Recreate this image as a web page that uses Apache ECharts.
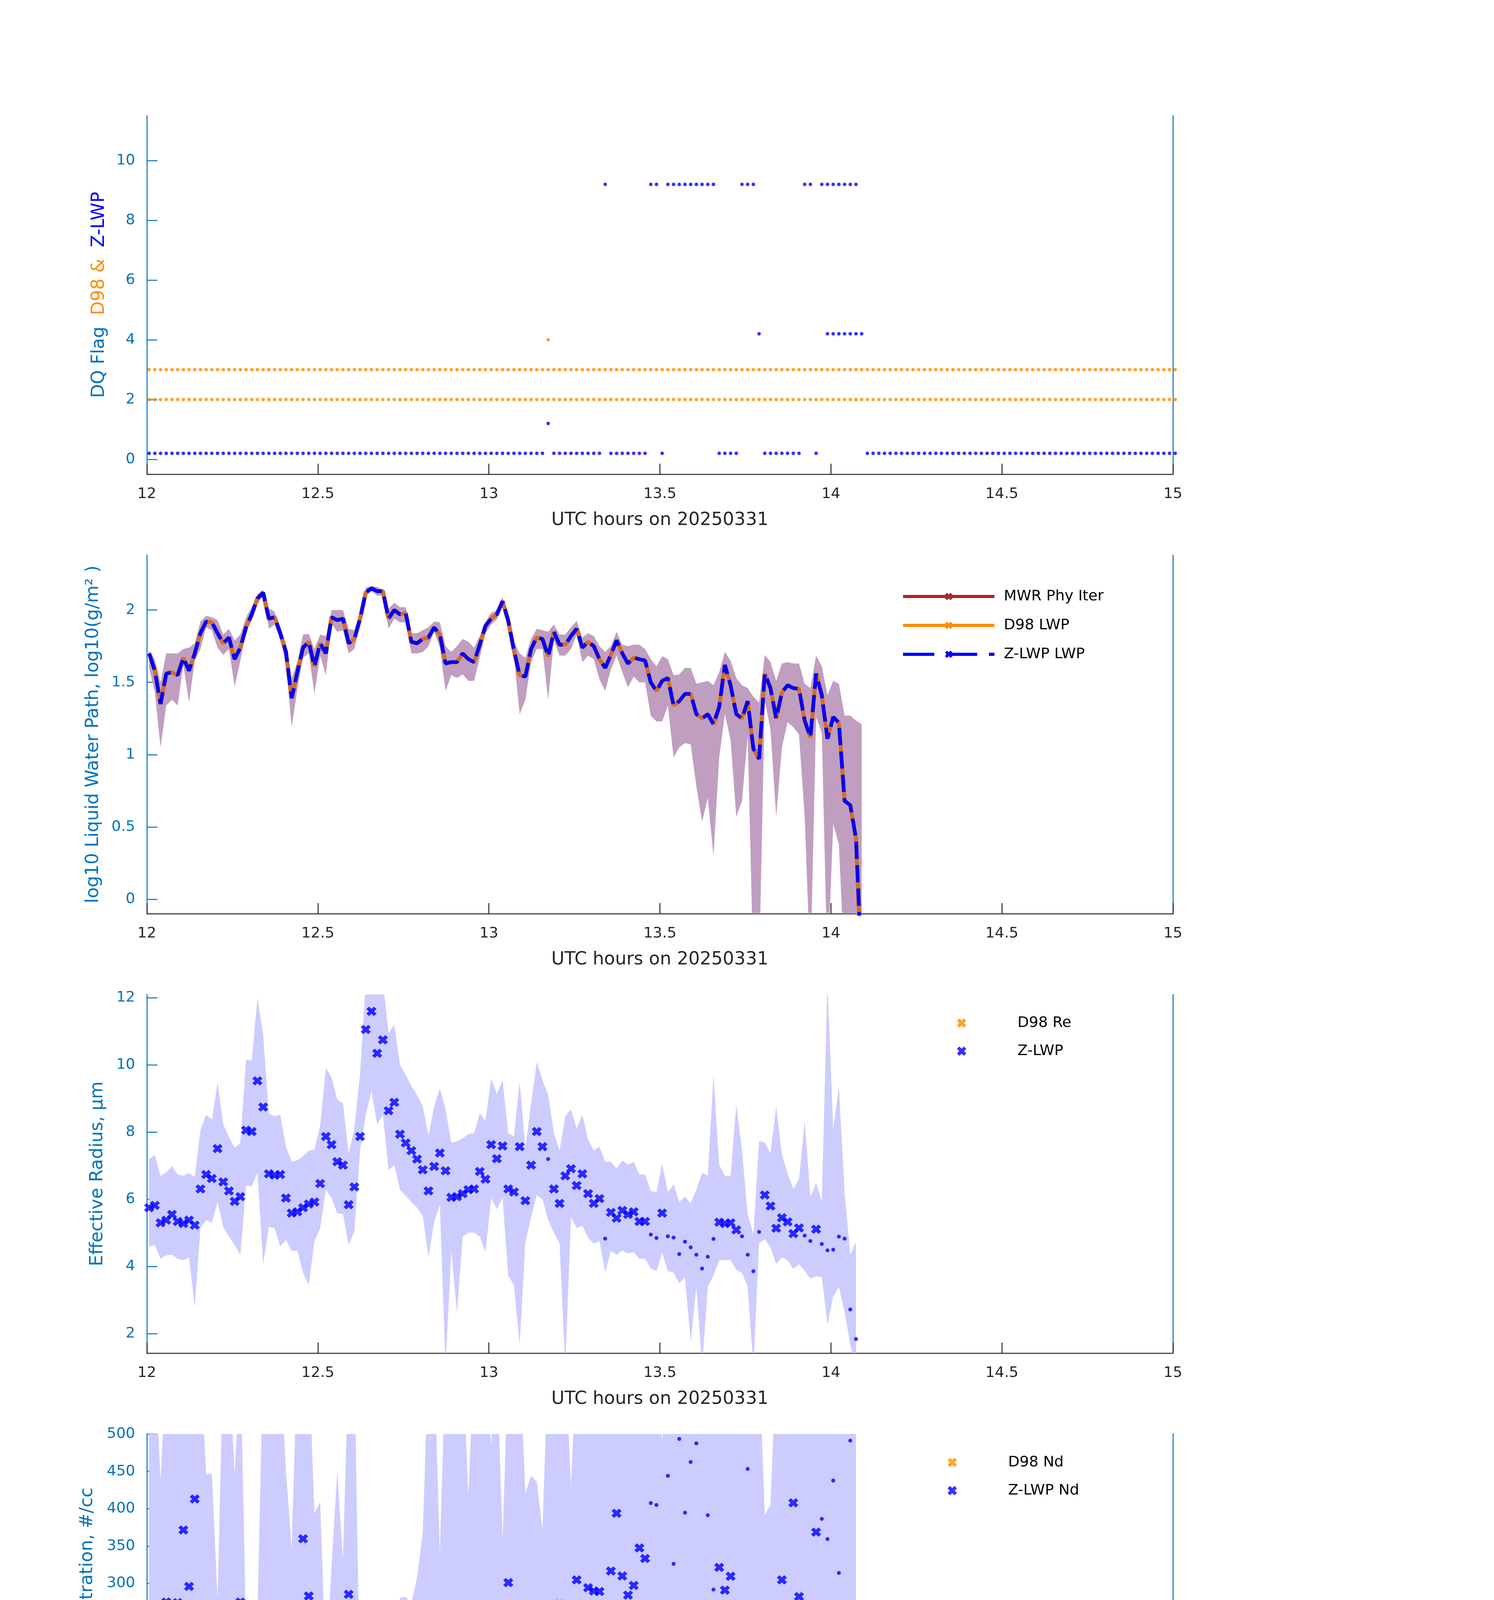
<!DOCTYPE html>
<html><head><meta charset="utf-8">
<script src="https://cdn.jsdelivr.net/npm/echarts@6/dist/echarts.min.js"></script>
<style>html,body{margin:0;padding:0;background:#fff}#c{width:3825px;height:6000px}</style>
</head><body><div id="c"></div>
<script>
// ---------- time base: one sample per minute, starting 0.4 min after 12 UTC ----------
const START_HOUR = 12, OFFSET_MIN = 0.4;
const hourOf = m => START_HOUR + (m + OFFSET_MIN) / 60;

// ---------- axis ticks ----------
const xTickInterval = 0.5;
const yTicksFlag = [0, 2, 4, 6, 8, 10];
const yTicksLwp = [0, 0.5, 1, 1.5, 2];
const yTicksRe = [2, 4, 6, 8, 10, 12];
const yTicksNd = [50, 100, 150, 200, 250, 300, 350, 400, 450, 500];
const yTicksOd = [5, 10, 15, 20];

// ---------- panel 1: data-quality flags, runs of minutes [first, last, plotted value] ----------
const d98FlagRuns = [[0, 180, 2], [0, 180, 3], [70, 70, 4]];
const zlwpFlagRuns = [[0, 69, 0.2], [70, 70, 1.2], [71, 79, 0.2], [80, 80, 9.2], [81, 87, 0.2],
  [88, 89, 9.2], [90, 90, 0.2], [91, 99, 9.2], [100, 103, 0.2], [104, 106, 9.2], [107, 107, 4.2],
  [108, 114, 0.2], [115, 116, 9.2], [117, 117, 0.2], [118, 124, 9.2], [119, 125, 4.2], [126, 180, 0.2]];
const GOOD_FLAG = 0.2;

// ---------- panel 2: log10 LWP (same for D98 / MWR / Z-LWP) and its band ----------
const lwp = [1.70,1.58,1.35,1.56,1.57,1.55,1.67,1.58,1.70,1.84,
 1.92,1.915,1.84,1.77,1.81,1.66,1.74,1.88,1.97,2.08,
 2.12,1.94,1.95,1.84,1.71,1.39,1.57,1.74,1.78,1.61,
 1.77,1.70,1.95,1.93,1.94,1.77,1.80,1.94,2.12,2.15,
 2.13,2.13,1.94,2.00,1.97,1.98,1.78,1.77,1.80,1.81,
 1.88,1.83,1.63,1.64,1.64,1.70,1.66,1.64,1.76,1.89,
 1.94,1.97,2.06,1.925,1.72,1.55,1.54,1.73,1.81,1.80,
 1.68,1.85,1.76,1.76,1.82,1.87,1.74,1.78,1.75,1.66,
 1.60,1.69,1.79,1.70,1.63,1.67,1.66,1.65,1.50,1.44,
 1.51,1.53,1.34,1.37,1.42,1.42,1.28,1.25,1.28,1.21,
 1.33,1.62,1.48,1.28,1.25,1.37,1.04,0.97,1.56,1.46,
 1.25,1.43,1.48,1.46,1.455,1.235,1.12,1.56,1.41,1.11,
 1.26,1.22,0.68,0.65,0.42,-0.5];
const lwpUpper = [1.72,1.66,1.50,1.70,1.70,1.70,1.73,1.74,1.77,1.92,
 1.96,1.95,1.93,1.83,1.87,1.79,1.83,1.95,2.02,2.11,
 2.14,2.01,1.99,1.87,1.77,1.53,1.64,1.83,1.835,1.73,
 1.83,1.82,2.00,2.00,2.00,1.87,1.86,1.98,2.155,2.165,
 2.16,2.14,2.01,2.05,2.02,2.02,1.84,1.84,1.86,1.88,
 1.92,1.915,1.75,1.71,1.75,1.80,1.78,1.74,1.82,1.92,
 1.98,2.00,2.09,1.95,1.78,1.70,1.67,1.80,1.87,1.86,
 1.85,1.90,1.83,1.83,1.88,1.925,1.81,1.84,1.82,1.75,
 1.71,1.75,1.85,1.76,1.75,1.76,1.76,1.73,1.66,1.61,
 1.68,1.66,1.55,1.555,1.60,1.60,1.49,1.50,1.51,1.48,
 1.57,1.71,1.65,1.53,1.48,1.46,1.40,1.36,1.69,1.64,
 1.51,1.63,1.64,1.63,1.63,1.49,1.46,1.685,1.61,1.41,
 1.51,1.49,1.27,1.27,1.235,1.21];
const lwpLower = [1.60,1.43,1.05,1.34,1.38,1.34,1.62,1.36,1.65,1.73,
 1.88,1.86,1.74,1.69,1.73,1.47,1.65,1.85,1.93,2.04,
 2.10,1.87,1.90,1.80,1.63,1.19,1.45,1.67,1.70,1.42,
 1.685,1.55,1.905,1.85,1.86,1.70,1.73,1.90,2.11,2.13,
 2.10,2.10,1.87,1.94,1.915,1.915,1.70,1.70,1.71,1.75,
 1.85,1.74,1.44,1.55,1.53,1.555,1.51,1.51,1.67,1.84,
 1.90,1.935,2.03,1.89,1.67,1.28,1.38,1.64,1.73,1.73,
 1.38,1.79,1.685,1.685,1.73,1.83,1.64,1.685,1.66,1.52,
 1.44,1.59,1.685,1.57,1.465,1.54,1.50,1.50,1.27,1.23,
 1.23,1.34,0.98,1.05,1.08,1.07,0.78,0.535,0.70,0.30,
 0.98,1.28,1.10,0.57,0.68,1.13,-0.5,-0.5,1.38,1.17,
 0.57,1.05,1.225,1.19,1.14,0.57,-0.5,1.26,1.15,-0.5,
 0.52,0.38,-0.5,-0.5,-0.5,-0.5];

// ---------- panel 3: effective radius (um) ----------
const re = [5.75,5.82,5.30,5.38,5.55,5.34,5.28,5.38,5.23,6.31,
 6.74,6.62,7.51,6.52,6.25,5.94,6.08,8.06,8.02,9.53,
 8.75,6.76,6.72,6.74,6.04,5.59,5.63,5.75,5.86,5.92,
 6.47,7.87,7.63,7.12,7.02,5.84,6.37,7.87,11.06,11.60,
 10.35,10.75,8.64,8.89,7.94,7.68,7.45,7.20,6.88,6.25,
 6.98,7.38,6.85,6.06,6.08,6.17,6.29,6.31,6.83,6.60,
 7.63,7.21,7.59,6.31,6.22,7.57,5.96,7.02,8.02,7.57,
 7.20,6.31,5.88,6.70,6.91,6.41,6.76,6.17,5.88,6.02,
 4.83,5.61,5.44,5.67,5.55,5.63,5.34,5.34,4.95,4.85,
 5.59,4.90,4.86,4.37,4.74,4.57,4.35,3.94,4.29,4.82,
 5.32,5.28,5.30,5.09,4.90,4.35,3.86,5.03,6.13,5.80,
 5.14,5.45,5.33,4.98,5.15,4.92,4.76,5.11,4.67,4.48,
 4.50,4.89,4.83,2.72,1.84];
const reUpper = [7.2,7.32,6.70,6.80,6.99,6.74,6.70,6.78,6.66,8.06,
 8.52,8.37,9.47,8.23,7.86,7.53,7.68,10.17,10.13,12.0,
 10.91,8.56,8.48,8.52,7.57,7.12,7.16,7.28,7.45,7.49,
 8.19,9.92,9.63,8.97,8.86,7.36,8.11,9.76,12.5,12.5,
 12.5,12.5,10.95,11.20,10.0,9.71,9.38,9.10,8.77,7.90,
 8.77,9.30,8.68,7.68,7.73,7.82,7.94,7.98,8.56,8.35,
 9.59,9.14,9.55,7.98,7.87,9.51,7.53,8.85,10.09,9.55,
 9.10,7.98,7.45,8.48,8.68,8.11,8.52,7.78,7.45,7.57,
 7.12,7.12,6.91,7.16,7.03,7.12,6.74,6.74,6.25,6.21,
 7.05,6.21,6.45,5.92,6.08,5.88,6.29,6.79,6.70,9.71,
 7.03,6.70,6.70,8.81,7.47,5.55,4.97,7.73,7.69,7.37,
 8.76,7.34,6.77,6.31,6.59,8.33,6.07,6.49,5.95,12.5,
 8.08,9.36,6.2,4.35,4.74];
const reLower = [4.60,4.64,4.23,4.33,4.35,4.23,4.19,4.27,2.78,5.14,
 5.38,5.30,5.92,5.18,4.89,4.64,4.35,6.41,6.39,6.79,
 4.06,5.18,5.14,4.60,4.80,4.47,4.47,3.82,3.44,4.76,
 5.14,6.29,6.04,5.59,5.56,4.64,5.05,7.45,8.52,9.22,
 8.23,8.52,6.87,7.03,6.29,6.11,5.92,5.75,5.51,4.27,
 5.34,5.84,1.0,4.47,2.62,4.89,5.01,5.01,4.89,4.43,
 6.04,5.71,6.04,3.73,3.44,1.67,4.72,5.47,6.13,6.0,
 5.38,5.01,4.68,1.0,5.47,5.14,5.22,4.85,4.68,4.76,
 3.82,4.47,4.35,4.47,4.39,4.43,4.23,4.23,3.94,3.86,
 4.41,3.86,3.82,3.49,3.69,1.75,3.40,1.0,3.40,3.73,
 4.19,4.19,4.19,3.90,3.81,3.40,1.0,4.7,4.81,4.57,
 4.07,4.28,4.18,3.93,4.07,3.87,3.64,3.71,3.69,2.26,
 3.11,3.39,2.65,1.66,1.0];

// ---------- panel 4: droplet concentration (#/cc) ----------
const nd = [271.3,252.7,190.3,275,260,274.3,371.5,296,413,241.6,
 221,222,134,207.4,254,217.5,275,118.3,123.5,98.6,
 136.9,237.9,194.4,168.4,223.8,168.4,257.2,359.7,283.2,193.3,
 203.3,101.2,152.5,173.6,161.7,285.4,233.4,134,59.6,60.4,
 81.2,70.0,108.6,110.5,125.4,140.6,136.9,150.6,181.1,246,
 210,161.7,138.4,224.1,201.5,229.3,198.1,198.9,200.7,216.3,
 166.2,185.9,171.8,301,214.9,82.7,206.3,178.5,152.5,143.9,
 124.6,244.5,272.4,205.2,211.1,304.7,198.1,294.3,289.8,289.1,
 null,316.6,393.8,309.9,284.3,297.3,347.4,333.3,407.5,405,
 222.3,444,326.2,493.3,394.6,462.5,487.4,null,391.2,291.7,
 321.4,291,309.5,226.7,240.5,453.2,null,224.9,195.2,185.9,
 248.3,304.7,252.7,407.9,282.4,231.2,237.1,368.6,386.4,359.3,
 437.6,314,101.6,491.1,null];
const ndUpper = [600,600,438,600,600,600,600,600,600,600,
 446,447,279,600,600,446,600,238,249,258,
 600,600,600,600,450,347,600,600,600,394,
 409,190,323,451,331,600,600,145,126.5,122.8,
 160,145,219,221,281,282,273,308,368,600,
 600,340,600,600,600,600,418,600,600,600,
 485,600,357,600,600,600,420,444,436,371.5,
 600,600,600,600,431,600,600,600,600,600,
 600,600,600,600,600,600,600,600,600,600,
 490,600,600,600,600,600,600,600,600,600,
 600,600,600,600,600,600,600,600,392,405,
 600,600,600,600,600,600,600,600,600,600,
 600,600,600,600,600];
const ndLower = [130,121,46.6,108,113.5,104.2,182,89.4,202.6,121,
 111.6,111.6,68.9,104.2,124.6,95,132,59.6,61.5,50.4,
 65.2,117.2,96.8,83.8,109.8,65.2,126.5,178.5,150.6,76.4,
 93.1,48.5,76.4,85.6,81.9,141.3,111.6,63.4,30,31.8,
 41.1,35.5,54.1,55.9,61.5,70.8,68.9,74.5,93.1,121,
 104.2,80,59.6,111.6,100.5,111.6,81.9,98.6,98.6,106,
 83.8,93.1,87.5,146.9,108,26.2,96.8,89.4,76.4,72.7,
 31.8,122.8,135.8,102.3,106,150.6,100.5,146.9,145,143.2,
 254.6,158,193.3,154.3,132,148.8,172.9,165.5,143.2,154.3,
 59.6,189.6,57.8,104.2,87.5,100.5,48.5,24.4,0,0,
 61.5,143.2,52.2,0,0,120,238,100.5,80,52,
 0,59.6,82,111.6,65,0,108,98,0,0,
 0,0,41,91.2,54.1];

// ---------- panel 5: optical depth ----------
const od = [11.92,9.21,6.43,10.18,10.18,10.09,13.35,10.79,14.85,15.99,
 18.70,18.48,14.16,13.61,15.73,11.47,14.27,14.58,17.60,19.01,
 22.86,19.65,20.07,14.30,12.23,6.65,10.42,14.95,15.49,10.37,
 13.79,9.82,17.66,18.19,18.52,15.37,14.95,16.17,18.19,18.19,
 19.43,18.64,15.18,16.90,17.69,18.79,12.11,12.60,14.03,15.44,
 16.32,13.90,9.51,10.92,10.97,12.33,10.92,10.31,12.84,17.14,
 17.27,19.19,22.97,20.62,13.24,7.12,8.77,11.56,12.23,12.75,
 9.94,17.33,14.85,13.17,14.54,17.60,12.01,14.71,14.54,11.56,
 12.38,12.75,17.14,12.93,11.52,12.47,12.80,12.33,9.69,8.72,
 8.72,10.37,6.98,8.22,8.44,8.68,6.56,6.94,6.79,5.18,
 6.79,11.98,8.48,5.64,5.51,8.21,4.45,2.91,9.12,7.58,
 5.42,7.58,8.63,8.90,8.48,5.33,4.27,11.01,8.85,4.38,
 5.97,5.06,1.48,2.40,2.07];
const odUpper = [17.05,14.03,11.37,15.59,15.13,15.68,16.90,17.09,30,20.81,
 23.52,23.37,19.25,17.23,19.71,17.05,20.57,18.42,21.72,30,
 30,30,30,19.43,16.87,11.19,16.96,22.27,30,15.49,
 17.33,13.75,22.27,23.37,23.37,19.43,18.92,19.8,30,23.0,
 30,23.92,19.07,21.36,22.18,23.5,15.31,15.77,17.78,22.91,
 21.54,18.24,30,15.04,30,17.33,16.41,13.94,16.59,30,
 21.81,30,30,30,16.7,13.2,13.02,14.49,15.86,16.14,
 21.85,21.85,19.16,18.42,22.0,21.96,16.96,18.55,18.79,17.82,
 17.82,16.87,21.63,16.59,16.69,16.69,17.78,16.96,15.37,13.53,
 14.82,15.49,12.93,14.71,14.85,22.36,30,30,14.2,12.1,
 12.3,16.78,14.12,12.56,11.4,13.0,14.0,12.0,13.7,13.7,
 12.0,14.0,14.1,14.8,14.8,16.0,16.0,16.0,15.0,11.0,
 13.1,11.0,9.5,18.7,30];
const odLower = [8.26,5.70,2.58,5.42,5.88,5.33,10.27,5.42,11.74,11.92,
 14.76,14.67,10.27,10.64,12.47,6.70,10.37,11.74,14.16,15.22,
 18.19,15.40,15.86,11.92,9.91,3.59,8.44,11.56,12.29,5.70,
 11.37,6.15,14.03,14.03,14.40,12.20,11.92,12.88,14.45,14.45,
 15.40,14.85,12.11,13.48,13.94,14.76,9.54,10.18,11.19,12.25,
 12.93,10.37,5.42,8.08,7.16,7.89,6.06,6.98,9.36,13.94,
 13.75,16.50,18.42,16.69,8.26,3.13,5.33,8.63,9.73,10.09,
 3.96,13.75,11.56,10.37,11.92,13.94,8.99,11.19,10.37,7.62,
 7.53,8.99,13.39,6.89,8.63,8.17,8.17,8.17,4.87,4.60,
 3.68,5.88,2.31,2.95,3.04,3.13,1.52,0.84,1.11,0,
 2.31,7.16,3.32,0.66,1.03,4.14,3.41,2.31,4.87,3.50,
 0.75,2.86,3.86,3.77,3.41,0.66,3.41,6.43,3.41,0,
 0.75,0.57,1.30,1.21,0.93];

// ---------- styling ----------
const FONT = 'DejaVu Sans';
const AXIS_BLUE = '#0072BD', DARK = '#262626';
const BLUE = '#0000FF', ORANGE = '#FF8C00', BROWN = '#A52A2A';
const XSYM = 'path://M0,2.6L2.6,0L5,2.4L7.4,0L10,2.6L7.6,5L10,7.4L7.4,10L5,7.6L2.6,10L0,7.4L2.4,5Z';

const panels = [
  {top: 296, range: [-0.5, 11.5], ticks: yTicksFlag, nameGap: 99,
   name: '{a|DQ Flag}  {b|D98 &}  {c|Z-LWP}'},
  {top: 1421, range: [-0.1, 2.38], ticks: yTicksLwp, nameGap: 114,
   name: 'log10 Liquid Water Path, log10(g/m\u00B2 )'},
  {top: 2546, range: [1.42, 12.1], ticks: yTicksRe, nameGap: 103,
   name: 'Effective Radius, \u03BCm'},
  {top: 3671, range: [20, 500], ticks: yTicksNd, nameGap: 129,
   name: 'Droplet Concentration, #/cc'},
  {top: 4796, range: [0.39, 24.06], ticks: yTicksOd, nameGap: 104,
   name: 'Optical Depth'}
];

// ---------- helpers ----------
const flagsAt = m => zlwpFlagRuns.filter(r => m >= r[0] && m <= r[1]).map(r => r[2]);
const isGood = m => flagsAt(m).includes(GOOD_FLAG);
const pts = arr => arr.map((v, m) => v == null ? null : [hourOf(m), v]).filter(p => p);
function runPts(runs) {
  const out = [];
  runs.forEach(([a, b, v]) => { for (let m = a; m <= b; m++) out.push([hourOf(m), v]); });
  return out;
}
function splitByFlag(arr) {
  const good = [], flagged = [];
  arr.forEach((v, m) => { if (v == null) return; (isGood(m) ? good : flagged).push([hourOf(m), v]); });
  return {good, flagged};
}
function band(idx, upper, lower, color) {
  return {
    type: 'custom', name: '_band' + idx, xAxisIndex: idx, yAxisIndex: idx, silent: true, z: 1, clip: true,
    data: [[12, 0]],
    renderItem: (params, api) => {
      const p = [];
      for (let m = 0; m < upper.length; m++) p.push(api.coord([hourOf(m), upper[m]]));
      for (let m = lower.length - 1; m >= 0; m--) p.push(api.coord([hourOf(m), lower[m]]));
      const cs = params.coordSys;
      return {type: 'group',
        clipPath: {type: 'rect', shape: {x: cs.x, y: cs.y, width: cs.width, height: cs.height}},
        children: [{type: 'polygon', shape: {points: p}, style: {fill: color, stroke: null}}]};
    }
  };
}

const grid = panels.map(p => ({left: 376, top: p.top, width: 2627, height: 918}));
const xAxis = panels.map((p, i) => ({
  type: 'value', gridIndex: i, min: 12, max: 15, interval: xTickInterval,
  name: 'UTC hours on 20250331', nameLocation: 'middle', nameGap: 95,
  nameTextStyle: {fontSize: 46, color: DARK, fontFamily: FONT},
  axisLine: {show: true, onZero: false, lineStyle: {color: DARK, width: 2.5}},
  axisTick: {show: true, inside: true, length: 27, lineStyle: {color: DARK, width: 2.5}},
  axisLabel: {fontSize: 38, color: DARK, fontFamily: FONT, margin: 32},
  splitLine: {show: false}
}));
const yAxisLeft = panels.map((p, i) => ({
  type: 'value', gridIndex: i, position: 'left', min: p.range[0], max: p.range[1],
  name: p.name, nameLocation: 'middle', nameGap: p.nameGap, nameRotate: 90,
  nameTextStyle: {fontSize: 46, color: AXIS_BLUE, fontFamily: FONT,
    rich: {a: {fontSize: 46, color: AXIS_BLUE, fontFamily: FONT},
           b: {fontSize: 46, color: ORANGE, fontFamily: FONT},
           c: {fontSize: 46, color: BLUE, fontFamily: FONT}}},
  axisLine: {show: true, onZero: false, lineStyle: {color: AXIS_BLUE, width: 2.5}},
  axisTick: {show: true, inside: true, length: 27, customValues: p.ticks, lineStyle: {color: AXIS_BLUE, width: 2.5}},
  axisLabel: {customValues: p.ticks, fontSize: 38, color: AXIS_BLUE, fontFamily: FONT, margin: 30},
  splitLine: {show: false}
}));
const yAxisRight = panels.map((p, i) => ({
  type: 'value', gridIndex: i, position: 'right', min: p.range[0], max: p.range[1],
  axisLine: {show: true, onZero: false, lineStyle: {color: AXIS_BLUE, width: 2.5}},
  axisTick: {show: false}, axisLabel: {show: false}, splitLine: {show: false}
}));

const reS = splitByFlag(re), ndS = splitByFlag(nd), odS = splitByFlag(od);
const XSIZE = [26, 24];

const series = [
  // panel 1
  {type: 'scatter', name: '_d98flag', xAxisIndex: 0, yAxisIndex: 0, data: runPts(d98FlagRuns),
   symbol: 'circle', symbolSize: 9, itemStyle: {color: ORANGE}, clip: false, z: 3},
  {type: 'scatter', name: '_zlwpflag', xAxisIndex: 0, yAxisIndex: 0, data: runPts(zlwpFlagRuns),
   symbol: 'circle', symbolSize: 9, itemStyle: {color: BLUE}, clip: false, z: 4},
  // panel 2
  band(1, lwpUpper, lwpLower, '#C09EC0'),
  {type: 'line', name: '_d98lwp', xAxisIndex: 1, yAxisIndex: 1, data: pts(lwp), symbol: 'none',
   lineStyle: {color: ORANGE, width: 11}, clip: true, z: 3},
  {type: 'line', name: '_mwrlwp', xAxisIndex: 1, yAxisIndex: 1, data: pts(lwp), symbol: 'none',
   lineStyle: {color: '#CC6E32', width: 9.5}, clip: true, z: 4},
  {type: 'line', name: '_zlwplwp', xAxisIndex: 1, yAxisIndex: 1, data: pts(lwp), symbol: 'none',
   lineStyle: {color: BLUE, width: 9.5, type: [44, 16]}, clip: true, z: 5},
  {type: 'line', name: 'MWR Phy Iter', xAxisIndex: 1, yAxisIndex: 1, data: [], symbol: XSYM, symbolSize: 22,
   lineStyle: {color: BROWN, width: 8}, itemStyle: {color: BROWN}},
  {type: 'line', name: 'D98 LWP', xAxisIndex: 1, yAxisIndex: 1, data: [], symbol: XSYM, symbolSize: 22,
   lineStyle: {color: ORANGE, width: 8}, itemStyle: {color: ORANGE}},
  {type: 'line', name: 'Z-LWP LWP', xAxisIndex: 1, yAxisIndex: 1, data: [], symbol: XSYM, symbolSize: 22,
   lineStyle: {color: BLUE, width: 8, type: [80, 30]}, itemStyle: {color: BLUE}},
  // panel 3
  band(2, reUpper, reLower, '#CCCCFF'),
  {type: 'scatter', name: 'D98 Re', xAxisIndex: 2, yAxisIndex: 2, data: [], symbol: XSYM,
   symbolSize: XSIZE, itemStyle: {color: ORANGE}},
  {type: 'scatter', name: 'Z-LWP', xAxisIndex: 2, yAxisIndex: 2, data: reS.good, symbol: XSYM,
   symbolSize: XSIZE, itemStyle: {color: BLUE}, z: 4},
  {type: 'scatter', name: '_reDots', xAxisIndex: 2, yAxisIndex: 2, data: reS.flagged, symbol: 'circle',
   symbolSize: 10, itemStyle: {color: BLUE}, z: 4},
  // panel 4
  band(3, ndUpper, ndLower, '#CCCCFF'),
  {type: 'scatter', name: 'D98 Nd', xAxisIndex: 3, yAxisIndex: 3, data: [], symbol: XSYM,
   symbolSize: XSIZE, itemStyle: {color: ORANGE}},
  {type: 'scatter', name: 'Z-LWP Nd', xAxisIndex: 3, yAxisIndex: 3, data: ndS.good, symbol: XSYM,
   symbolSize: XSIZE, itemStyle: {color: BLUE}, z: 4},
  {type: 'scatter', name: '_ndDots', xAxisIndex: 3, yAxisIndex: 3, data: ndS.flagged, symbol: 'circle',
   symbolSize: 10, itemStyle: {color: BLUE}, z: 4},
  // panel 5
  band(4, odUpper, odLower, '#CCCCFF'),
  {type: 'scatter', name: 'D98 OD', xAxisIndex: 4, yAxisIndex: 4, data: [], symbol: XSYM,
   symbolSize: XSIZE, itemStyle: {color: ORANGE}},
  {type: 'scatter', name: 'Z-LWP Nd', xAxisIndex: 4, yAxisIndex: 4, data: odS.good, symbol: XSYM,
   symbolSize: XSIZE, itemStyle: {color: BLUE}, z: 4},
  {type: 'scatter', name: '_odDots', xAxisIndex: 4, yAxisIndex: 4, data: odS.flagged, symbol: 'circle',
   symbolSize: 10, itemStyle: {color: BLUE}, z: 4}
];

const legendText = {fontSize: 38, color: '#000', fontFamily: FONT};
const legendCommon = {orient: 'vertical', padding: 0, itemHeight: 24, selectedMode: false,
  lineStyle: {width: 'inherit', type: 'inherit'}, itemStyle: {borderWidth: 0}};
const legend = [
  Object.assign({left: 2308, top: 1508, itemWidth: 234, itemGap: 36,
   data: ['MWR Phy Iter', 'D98 LWP', 'Z-LWP LWP'],
   textStyle: Object.assign({padding: [0, 0, 0, 19]}, legendText)}, legendCommon),
  Object.assign({left: 2450, top: 2600, itemWidth: 276, itemGap: 34,
   data: ['D98 Re', 'Z-LWP'], textStyle: legendText}, legendCommon),
  Object.assign({left: 2426, top: 3725, itemWidth: 276, itemGap: 34,
   data: ['D98 Nd', 'Z-LWP Nd'], textStyle: legendText}, legendCommon),
  Object.assign({left: 2426, top: 4850, itemWidth: 276, itemGap: 34,
   data: ['D98 OD', 'Z-LWP Nd'], textStyle: legendText}, legendCommon)
];

const chart = echarts.init(document.getElementById('c'), null, {renderer: 'canvas', width: 3825, height: 6000});
chart.setOption({
  animation: false, backgroundColor: '#ffffff',
  textStyle: {fontFamily: FONT},
  grid, xAxis, yAxis: yAxisLeft.concat(yAxisRight), legend, series
});
</script></body></html>
